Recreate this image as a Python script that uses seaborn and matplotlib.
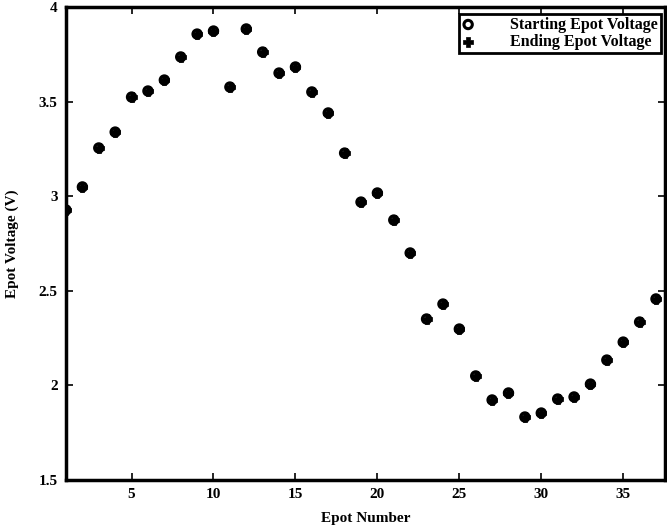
import numpy as np
import pandas as pd
import matplotlib
matplotlib.use("Agg")
import matplotlib.pyplot as plt
import seaborn as sns

epot_number = list(range(1, 38))
starting_voltage = [2.927, 3.049, 3.255, 3.339, 3.524, 3.556, 3.614, 3.736, 3.857, 3.873,
                    3.577, 3.884, 3.762, 3.651, 3.683, 3.551, 3.440, 3.228, 2.969, 3.017,
                    2.874, 2.700, 2.351, 2.430, 2.298, 2.050, 1.923, 1.960, 1.833, 1.854,
                    1.928, 1.939, 2.007, 2.134, 2.229, 2.335, 2.457]
ending_voltage = [2.927, 3.049, 3.255, 3.339, 3.524, 3.556, 3.614, 3.736, 3.857, 3.873,
                  3.577, 3.884, 3.762, 3.651, 3.683, 3.551, 3.440, 3.228, 2.969, 3.017,
                  2.874, 2.700, 2.351, 2.430, 2.298, 2.050, 1.923, 1.960, 1.833, 1.854,
                  1.928, 1.939, 2.007, 2.134, 2.229, 2.335, 2.457]
x_ticks = [5, 10, 15, 20, 25, 30, 35]
y_ticks = [1.5, 2, 2.5, 3, 3.5, 4]
y_tick_labels = ["1.5", "2", "2.5", "3", "3.5", "4"]

sns.set_style("ticks")
plt.rcParams['font.family'] = ['Liberation Serif', 'DejaVu Serif']
plt.rcParams['font.weight'] = 'bold'
plt.rcParams['text.color'] = 'black'
plt.rcParams['axes.labelcolor'] = 'black'
plt.rcParams['xtick.color'] = 'black'
plt.rcParams['ytick.color'] = 'black'

df = pd.DataFrame({"epot": epot_number, "start": starting_voltage, "end": ending_voltage})

fig = plt.figure(figsize=(6.67, 5.31), dpi=100)
ax = fig.add_axes([66/667, 1 - 480/531, (665-66)/667, (480-7)/531])

sns.scatterplot(data=df, x="epot", y="start", ax=ax, marker="o", s=36,
                facecolor="none", edgecolor="black", linewidth=2.2,
                label="Starting Epot Voltage", zorder=3)
sns.scatterplot(data=df, x="epot", y="end", ax=ax, marker="P", s=42,
                color="black", edgecolor="black", linewidth=0.5,
                label="Ending Epot Voltage", zorder=4)

ax.set_xlim(1, 37.55)
ax.set_ylim(1.5, 4)
ax.set_xticks(x_ticks)
ax.set_xticklabels([str(v) for v in x_ticks])
ax.set_yticks(y_ticks)
ax.set_yticklabels(y_tick_labels)
ax.tick_params(direction="in", top=True, right=True, length=5, width=1.2,
               labelsize=11, pad=6, colors="black")
for lab in ax.get_xticklabels() + ax.get_yticklabels():
    lab.set_fontweight("bold")
for sp in ax.spines.values():
    sp.set_visible(True)
    sp.set_linewidth(2.5)
    sp.set_color("black")

ax.set_xlabel("Epot Number", fontsize=11, fontweight="bold", labelpad=8, color="black")
ax.set_ylabel("Epot Voltage (V)", fontsize=11, fontweight="bold", labelpad=14, color="black")

leg = ax.legend(loc="upper right", bbox_to_anchor=(0.998, 0.993), frameon=True,
                fancybox=False, prop={"size": 11.5, "weight": "bold"},
                handletextpad=2.2, borderpad=0.2, labelspacing=0.1,
                borderaxespad=0.2, handlelength=0.8)
leg.get_frame().set_edgecolor("black")
leg.get_frame().set_linewidth(2.0)
leg.get_frame().set_alpha(1)
for t in leg.get_texts():
    t.set_color("black")

fig.savefig("out.png", dpi=100)
